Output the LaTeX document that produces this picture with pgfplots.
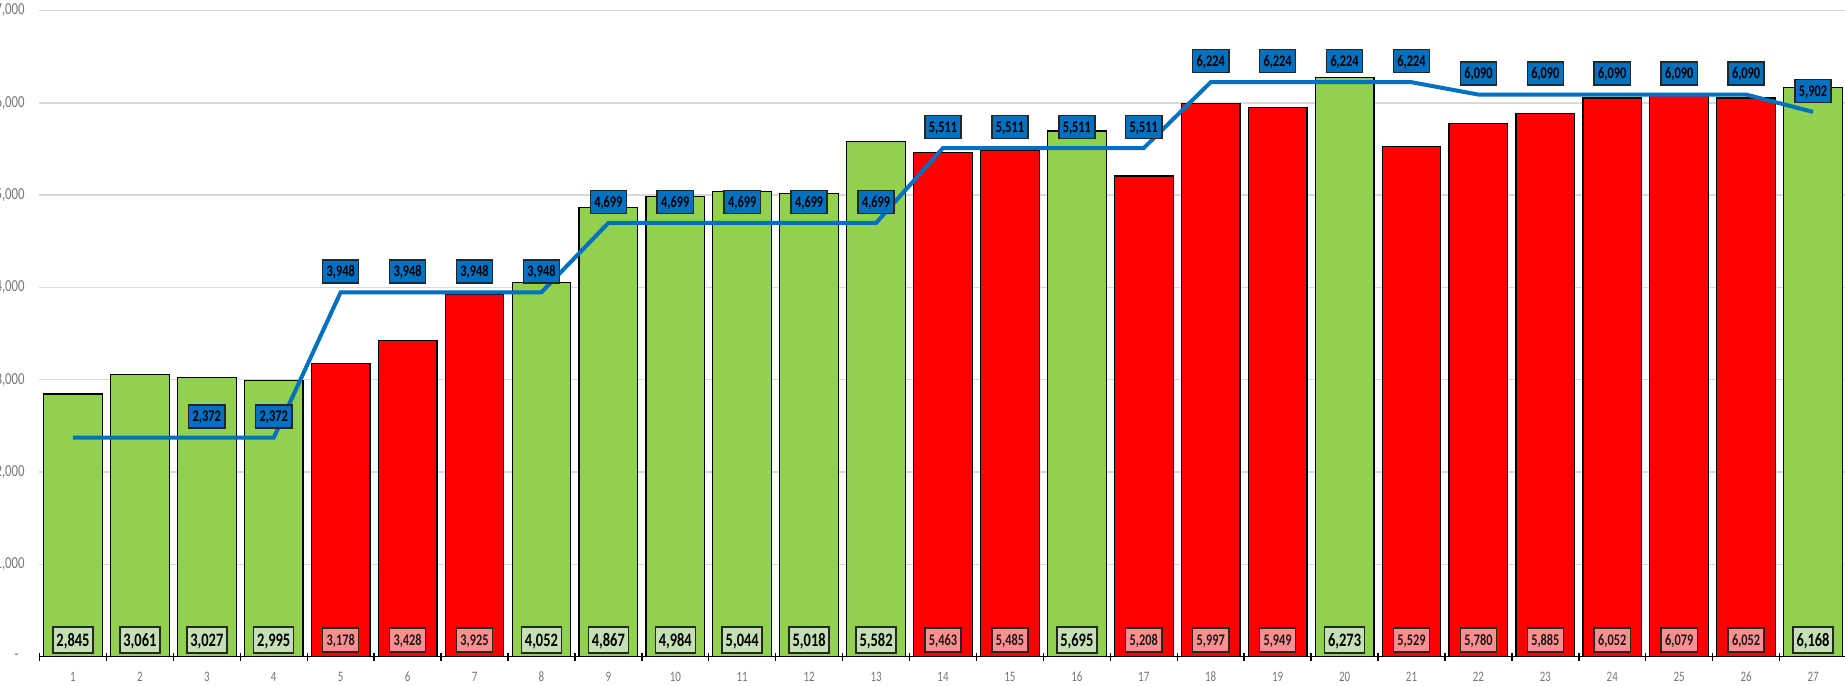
\documentclass[border=0pt]{standalone}
\usepackage{fontspec}
\setmainfont{Carlito}[FakeStretch=0.76]
\usepackage{pgfplots}
\pgfplotsset{compat=1.18}
\usepackage{pgfplotstable}
\definecolor{barG}{RGB}{146,208,80}
\definecolor{barR}{RGB}{255,0,0}
\definecolor{lblG}{RGB}{197,224,180}
\definecolor{lblR}{RGB}{255,143,143}
\definecolor{lineB}{RGB}{0,112,192}
\definecolor{gridC}{RGB}{217,217,217}
\definecolor{tickC}{RGB}{118,118,118}

\pgfplotstableread{
x v
1 2845
2 3061
3 3027
4 2995
8 4052
9 4867
10 4984
11 5044
12 5018
13 5582
16 5695
20 6273
27 6168
}\greentab

\pgfplotstableread{
x v
5 3178
6 3428
7 3925
14 5463
15 5485
17 5208
18 5997
19 5949
21 5529
22 5780
23 5885
24 6052
25 6079
26 6052
}\redtab

\pgfplotstableread{
x v
1 2372
2 2372
3 2372
4 2372
5 3948
6 3948
7 3948
8 3948
9 4699
10 4699
11 4699
12 4699
13 4699
14 5511
15 5511
16 5511
17 5511
18 6224
19 6224
20 6224
21 6224
22 6090
23 6090
24 6090
25 6090
26 6090
27 5902
}\linetab

\begin{document}
\begin{tikzpicture}
\begin{axis}[
  at={(0,0)}, anchor=south west,
  scale only axis, width=903.5pt, height=323pt,
  xmin=0.5, xmax=27.5, ymin=0, ymax=7000,
  clip=false,
  axis x line*=bottom, axis y line*=left,
  y axis line style={draw=none},
  x axis line style={black, line width=0.7pt},
  xtick={1,...,27},
  minor xtick={0.5,1.5,...,27.5},
  major tick length=0pt,
  minor tick length=4pt,
  tick align=center,
  minor tick style={black, line width=0.7pt},
  ytick={0,1000,...,7000},
  yticklabels={{-\hspace*{3pt}},{1,000},{2,000},{3,000},{4,000},{5,000},{6,000},{7,000}},
  ymajorgrids,
  grid style={gridC, line width=0.75pt},
  xticklabel style={font=\fontsize{7.2}{8}\selectfont, text=tickC, anchor=north, inner sep=0pt, yshift=-7.4pt},
  yticklabel style={font=\fontsize{8.4}{9}\selectfont, text=tickC, anchor=east, inner sep=0pt, xshift=-7.25pt},
  /pgf/number format/1000 sep={,},
  /pgf/number format/fixed,
  /pgf/number format/precision=0,
  /pgf/number format/assume math mode=true,
]
\addplot[ybar, bar width=0.877, bar shift=0pt, fill=barG, draw=black, line width=0.6pt] table[x=x,y=v]{\greentab};
\addplot[ybar, bar width=0.877, bar shift=0pt, fill=barR, draw=black, line width=0.6pt] table[x=x,y=v]{\redtab};

\addplot[draw=none, mark=none, nodes near coords, point meta=explicit,
  every node near coord/.append style={anchor=center, yshift=8.3pt, fill=lblG, draw=black!85, line width=0.75pt,
    inner xsep=1.75pt, inner ysep=3.5pt, text height=6pt, text depth=0pt, font=\bfseries\fontsize{9.5}{10}\selectfont, text=black}]
  table[x=x, y expr=0, meta=v]{\greentab};
\addplot[draw=none, mark=none, nodes near coords, point meta=explicit,
  every node near coord/.append style={anchor=center, yshift=8.3pt, fill=lblR, draw=black!85, line width=0.75pt,
    inner xsep=2pt, inner ysep=3.4pt, text height=5.1pt, text depth=0pt, font=\bfseries\fontsize{8.1}{9}\selectfont, text=black!90}]
  table[x=x, y expr=0, meta=v]{\redtab};

\addplot[lineB, line width=2pt, mark=none] table[x=x,y=v]{\linetab};
\addplot[draw=none, mark=none, restrict x to domain=3:27, nodes near coords, point meta=explicit,
  every node near coord/.append style={anchor=center, yshift=10.5pt, fill=lineB, draw=black!85, line width=0.75pt,
    inner xsep=2pt, inner ysep=3.2pt, text height=5.1pt, text depth=0pt, font=\bfseries\fontsize{8.1}{9}\selectfont, text=black}]
  table[x=x, y=v, meta=v]{\linetab};
\end{axis}
\pgfresetboundingbox
\path[use as bounding box] (-19.75pt,-14.2pt) rectangle (902.75pt,328.3pt);
\end{tikzpicture}
\end{document}
